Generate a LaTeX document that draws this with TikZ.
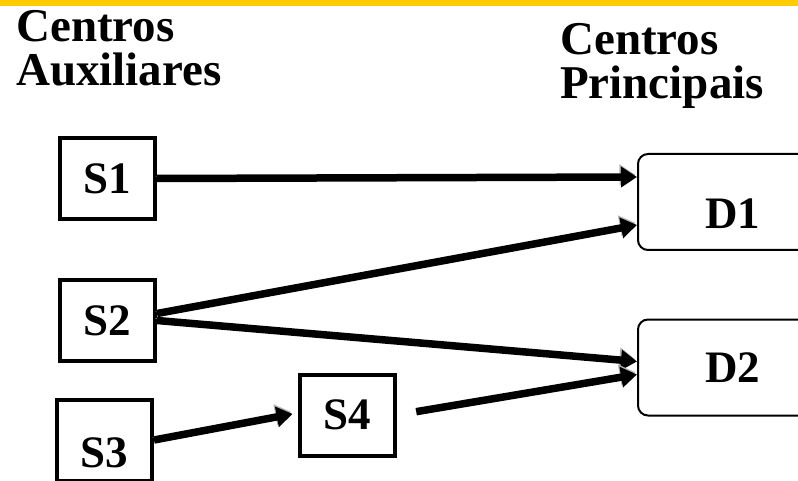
\documentclass[tikz,border=0pt]{standalone}
\usepackage{fontspec}
\setmainfont{Liberation Serif}
\usetikzlibrary{arrows.meta,calc}
\definecolor{barYellow}{RGB}{255,204,0}

\tikzset{
    sbox/.style={draw, line width=4pt, minimum width=95pt, minimum height=81pt, inner sep=0pt, font=\fontsize{45}{45}\selectfont\bfseries},
    dbox/.style={draw, line width=2pt, rounded corners=10pt, minimum width=190pt, minimum height=96pt, inner sep=0pt, font=\fontsize{45}{45}\selectfont\bfseries},
    heading/.style={anchor=north west, inner sep=0pt, align=left, font=\fontsize{47}{44}\selectfont\bfseries},
    flow/.style={line width=7.5pt, -{Triangle[length=16pt,width=20pt]},
        preaction={draw=gray!60, transform canvas={shift={(-1.5pt,2.2pt)}}}}
}

\begin{document}
\begin{tikzpicture}[x=1pt, y=-1pt]
    \useasboundingbox (0,0) rectangle (798,481);
    \fill[barYellow] (0,0) rectangle (798,6);

    % Headings
    \node[heading] (aux) at (16,10) {Centros\\Auxiliares};
    \node[heading] (pri) at (560,23) {Centros\\Principais};

    % Auxiliary centres
    \node[sbox] (S1) at (107.5,178.5) {S1};
    \node[sbox] (S2) at (107.5,320.5) {S2};
    \node[sbox] (S3) at (104.5,440) {\raisebox{-27pt}[0pt][0pt]{S3}};
    \node[sbox] (S4) at (347,415) {S4};

    % Main centres
    \node[dbox] (D1) at (733,202) {\raisebox{-27pt}[0pt][0pt]{D1}};
    \node[dbox] (D2) at (733,367.5) {D2};

    % Flows
    \draw[flow] (S1.east) -- ($(D1.west)+(0,-25)$);
    \draw[flow] ($(S2.east)+(0,-7)$) -- ($(D1.west)+(0,23)$);
    \draw[flow] (S2.east) -- ($(D2.west)+(0,-6)$);
    \draw[flow, shorten >=5pt] (S3.east) -- ($(S4.west)+(0,-2)$);
    \draw[flow, shorten <=20pt] (S4.east) -- ($(D2.west)+(0,7)$);
\end{tikzpicture}
\end{document}
